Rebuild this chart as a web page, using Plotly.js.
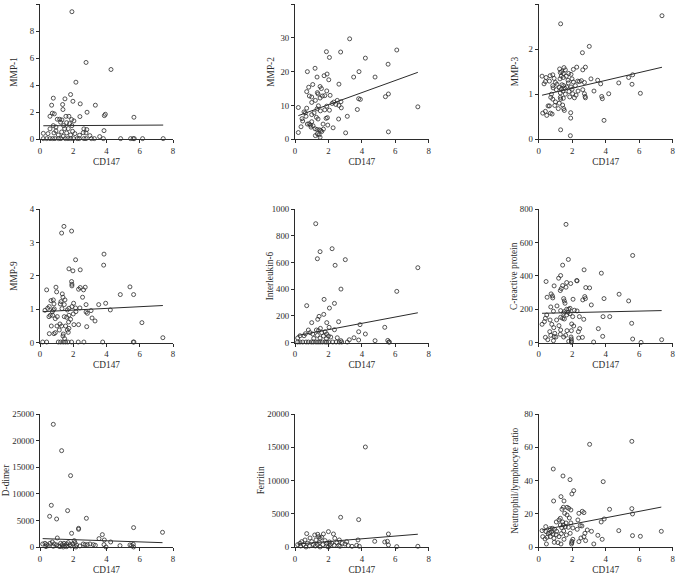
<!DOCTYPE html>
<html><head><meta charset="utf-8">
<script src="https://cdn.plot.ly/plotly-3.0.1.min.js"></script>
<style>html,body{margin:0;padding:0;background:#fff}</style>
</head><body><div id="chart" style="width:676px;height:576px"></div>
<script>
// ---------- DATA ----------
const panelTitles = ["MMP-1","MMP-2","MMP-3","MMP-9","Interleukin-6","C-reactive protein","D-dimer","Ferritin","Neutrophil/lymphocyte ratio"];
const xTitle = "CD147";
const xTicks = [0,2,4,6,8];
const yTicks1 = [0,2,4,6,8,10];
const yTicks2 = [0,10,20,30,40];
const yTicks3 = [0,1,2,3];
const yTicks4 = [0,1,2,3,4];
const yTicks5 = [0,200,400,600,800,1000];
const yTicks6 = [0,200,400,600,800];
const yTicks7 = [0,5000,10000,15000,20000,25000];
const yTicks8 = [0,5000,10000,15000,20000];
const yTicks9 = [0,20,40,60,80];

// fitted regression lines: intercept, slope
const fitIntercept = [1.0, 6.64, 0.96, 0.925, 50.3, 175.5, 1646, 459, 10.0];
const fitSlope     = [0.007, 1.79, 0.0866, 0.0253, 23.6, 2.27, -105.5, 204.5, 1.93];

const mmp1X = [1.92,2.77,4.27,2.16,1.84,0.80,1.50,1.98,1.36,0.70,2.42,3.33,1.38,2.83,0.74,0.86,3.93,3.87,0.60,1.56,1.74,2.40,5.65,1.04,1.18,1.32,1.90,2.04,1.24,1.60,1.78,0.80,1.42,1.92,0.96,1.48,1.70,0.60,2.64,2.81,3.85,0.96,1.30,1.96,0.20,0.48,0.84,1.60,2.60,2.77,2.10,1.10,1.84,2.38,3.00,3.59,1.40,
 0.20,0.40,0.60,0.76,0.90,1.12,1.26,1.52,1.68,1.84,2.02,2.24,2.36,2.64,2.77,3.09,3.27,3.81,4.85,5.45,5.61,5.67,6.17,7.41];
const mmp1Y = [9.43,5.68,5.16,4.22,3.31,3.04,2.99,2.81,2.57,2.52,2.62,2.52,2.20,2.00,1.93,1.88,1.85,1.75,1.70,1.70,1.70,1.68,1.63,1.48,1.48,1.43,1.46,1.36,1.26,1.23,1.16,1.01,1.01,1.01,0.91,0.79,0.79,0.77,0.77,0.72,0.64,0.62,0.54,0.59,0.44,0.42,0.47,0.47,0.49,0.47,0.42,0.32,0.32,0.30,0.27,0.20,0.22,
 0.05,0.05,0.05,0.05,0.05,0.05,0.05,0.05,0.05,0.05,0.05,0.05,0.05,0.05,0.05,0.05,0.05,0.05,0.05,0.05,0.05,0.05,0.05,0.05];

const mmp2X = [3.27,1.88,2.73,6.09,2.06,4.21,5.57,0.74,1.20,3.83,1.92,1.74,1.32,3.51,4.79,2.02,0.82,1.50,1.58,2.63,1.06,0.70,1.90,1.34,1.38,5.59,0.86,1.00,1.64,1.78,2.10,5.41,1.50,3.81,3.91,1.22,2.53,1.00,2.32,2.75,2.22,2.44,2.63,1.90,7.35,1.40,2.77,0.20,0.70,1.32,1.78,2.06,3.73,1.52,0.54,0.62,1.14,1.00,0.66,3.13,1.28,1.86,1.94,2.61,0.42,1.38,0.46,1.00,0.84,0.92,1.96,0.74,1.68,0.36,0.96,2.28,1.20,1.32,1.46,1.54,1.70,0.20,3.03,5.59,1.34,1.44,1.22,1.50,1.60,1.08];
const mmp2Y = [29.7,25.9,25.8,26.4,24.2,24.0,22.2,20.0,21.0,20.0,19.3,18.8,18.4,18.4,18.4,17.6,15.4,15.6,15.0,16.3,16.2,14.1,14.3,13.8,13.4,13.4,12.8,12.5,12.8,12.9,13.0,12.6,12.2,12.0,11.8,11.5,11.5,10.9,11.0,11.1,10.6,10.3,10.0,9.8,9.6,9.9,9.3,9.4,9.2,9.0,8.7,8.6,8.8,8.4,8.1,7.8,7.8,7.3,6.8,6.8,6.5,6.2,6.4,6.0,6.1,6.0,5.4,5.2,4.6,4.2,4.2,4.5,4.5,3.7,3.6,3.4,3.1,2.9,2.8,2.6,3.0,2.0,1.9,2.2,1.6,1.3,1.1,0.6,2.3,4.0];

const mmp3X = [7.36,1.31,3.02,2.61,2.79,2.27,1.25,1.51,1.59,1.37,2.07,2.63,1.29,1.47,1.79,0.20,0.68,0.84,1.35,1.65,1.93,1.47,0.44,0.92,1.27,1.99,3.12,5.37,5.61,3.52,1.75,0.40,0.64,2.33,2.43,2.55,1.00,1.77,2.07,2.73,0.32,1.09,1.39,3.70,4.78,5.57,0.84,1.49,1.67,1.93,2.19,1.23,1.35,1.57,1.99,2.63,0.86,1.05,1.81,1.45,3.30,2.35,1.29,2.73,4.18,6.07,1.59,2.03,0.76,2.23,2.77,3.76,1.85,2.13,0.72,1.29,3.80,1.31,1.47,0.84,1.00,2.79,1.23,0.96,1.43,0.56,0.64,1.17,1.49,1.53,0.40,0.24,0.48,0.70,0.80,1.91,1.91,3.90,1.31,1.89];
const mmp3Y = [2.74,2.56,2.06,1.92,1.60,1.60,1.56,1.59,1.54,1.50,1.55,1.54,1.48,1.46,1.46,1.40,1.41,1.43,1.40,1.40,1.44,1.37,1.37,1.35,1.34,1.34,1.34,1.37,1.43,1.31,1.31,1.28,1.29,1.29,1.28,1.30,1.26,1.25,1.27,1.26,1.23,1.22,1.21,1.23,1.25,1.22,1.19,1.19,1.16,1.16,1.19,1.15,1.11,1.13,1.11,1.10,1.14,1.10,1.06,1.07,1.07,1.07,1.03,1.01,1.01,1.02,1.00,1.01,1.00,0.98,0.95,0.95,0.94,0.92,0.93,0.93,0.90,0.89,0.91,0.89,0.83,0.92,0.80,0.75,0.76,0.74,0.74,0.68,0.68,0.64,0.62,0.58,0.53,0.58,0.56,0.59,0.47,0.42,0.21,0.08];

const mmp9X = [1.44,1.90,1.30,3.85,3.83,2.14,1.74,2.42,1.98,1.90,1.92,1.92,5.41,2.72,0.96,0.40,2.32,2.62,2.42,4.83,5.63,1.34,1.00,1.38,2.56,0.66,0.80,1.50,1.26,1.22,1.46,2.02,2.77,3.53,3.95,0.84,0.56,0.46,1.92,2.14,2.40,0.86,1.32,1.74,1.64,4.23,3.07,2.77,0.30,0.80,0.74,2.16,2.85,2.00,1.74,0.62,0.76,1.04,1.60,0.54,0.92,1.46,3.13,1.84,3.31,1.72,1.20,2.04,2.32,1.30,0.68,1.02,1.54,6.13,1.74,2.81,1.16,1.64,1.70,0.56,0.84,0.92,1.40,1.38,1.48,7.39,
 0.16,0.40,1.10,1.24,1.40,1.54,1.68,1.90,2.30,2.64,3.77,5.61,5.65];
const mmp9Y = [3.48,3.34,3.28,2.65,2.32,2.48,2.21,2.18,2.15,1.83,1.75,1.70,1.67,1.66,1.66,1.58,1.60,1.58,1.65,1.44,1.44,1.46,1.52,1.36,1.36,1.26,1.28,1.28,1.23,1.16,1.14,1.18,1.14,1.14,1.18,1.16,1.08,1.03,1.08,1.04,1.04,1.01,1.02,1.03,0.98,0.98,0.96,0.92,0.97,0.98,0.93,0.93,0.88,0.86,0.82,0.82,0.82,0.78,0.76,0.78,0.72,0.78,0.74,0.70,0.65,0.62,0.56,0.54,0.54,0.50,0.50,0.50,0.50,0.60,0.43,0.48,0.38,0.38,0.31,0.27,0.27,0.30,0.26,0.20,0.12,0.15,
 0.02,0.02,0.02,0.02,0.02,0.02,0.02,0.02,0.02,0.02,0.02,0.02,0.02];

const il6X = [1.24,2.22,1.50,1.34,3.01,2.40,7.35,2.75,6.09,1.74,0.70,2.36,2.06,1.72,1.44,1.36,2.61,1.00,1.90,3.89,1.52,2.04,5.37,2.36,1.28,0.80,1.40,1.80,3.81,1.60,0.90,0.62,1.06,4.21,1.90,0.30,0.54,1.34,1.70,2.00,2.14,3.53,2.53,0.16,1.50,1.12,1.88,3.25,3.81,2.75,4.79,5.55,
 0.16,0.30,0.46,0.66,0.80,0.98,1.10,1.26,1.38,1.50,1.64,1.80,1.90,2.02,2.26,2.46,2.65,2.79,3.13,5.61,5.65];
const il6Y = [890,703,681,628,621,579,561,401,384,324,277,294,259,212,197,175,157,150,150,135,107,115,115,97,95,95,90,82,82,75,75,67,65,65,65,52,52,55,50,50,42,37,37,35,35,32,30,22,20,15,15,17,
 5,5,5,5,5,5,5,5,5,5,5,5,5,5,5,5,5,5,5,5,5];

const crpX = [1.63,1.77,5.61,1.43,2.71,3.74,1.31,1.19,2.27,2.29,0.44,1.67,1.91,1.43,0.92,1.63,1.35,2.81,3.04,1.29,4.80,0.74,0.82,0.50,0.84,1.49,2.75,2.79,2.63,2.05,3.90,5.37,1.53,1.57,3.14,0.72,1.09,1.87,1.67,1.79,2.13,1.31,2.29,0.88,1.53,1.75,1.87,1.49,0.48,1.67,2.03,2.43,3.84,4.24,1.31,1.43,1.53,0.40,2.69,1.07,0.68,0.34,5.55,0.20,0.78,1.97,1.21,2.09,0.90,2.45,3.56,1.31,1.69,0.66,2.37,1.95,0.96,1.29,0.72,1.61,3.82,0.92,1.03,1.49,0.40,1.93,2.61,2.39,5.61,7.34,1.95,0.54,0.88,1.95,3.28,1.95,6.11,1.79];
const crpY = [708,498,522,464,436,416,402,386,372,370,366,360,354,342,340,332,324,330,328,312,290,292,280,272,268,264,276,264,256,260,264,250,250,236,226,214,220,206,200,200,194,192,190,188,186,182,174,176,166,166,156,156,156,156,152,146,142,146,140,136,136,126,116,110,110,112,102,100,90,84,84,76,72,66,66,72,56,50,44,44,38,36,34,34,32,34,32,28,22,18,22,18,12,10,4,2,2,8];

const ddX = [0.80,1.30,1.84,0.68,1.66,0.58,1.00,2.79,2.32,2.32,5.63,7.37,1.90,3.75,3.55,3.87,1.04,2.06,4.25,0.16,0.30,0.40,0.50,0.60,0.74,0.86,1.00,1.12,1.24,1.34,1.44,1.50,1.60,1.70,1.80,1.86,1.96,2.10,2.20,2.40,2.60,2.71,2.85,3.01,3.21,3.33,3.85,3.97,4.81,5.41,5.51,5.61,5.63,1.20,1.60,0.36,2.16,0.80,1.40];
const ddY = [23060,18125,13440,7875,6875,5810,5310,5440,3560,3375,3690,2810,2625,2375,1625,1375,1750,1250,1000,625,750,500,310,750,1000,625,440,250,750,500,750,310,625,875,500,250,625,875,440,250,625,500,500,625,500,375,500,60,310,440,310,560,60,125,125,125,60,190,60];

const ferX = [4.21,2.73,3.81,2.00,0.70,2.30,5.59,1.18,1.36,1.70,1.42,1.60,0.90,1.50,2.38,3.77,0.60,1.26,2.65,1.80,4.77,3.09,5.37,5.53,0.40,1.00,2.06,0.30,0.74,1.46,1.90,2.20,2.50,2.83,2.99,0.16,0.50,1.10,1.34,1.66,2.10,2.34,2.61,3.19,3.69,5.59,0.34,0.86,1.22,1.90,2.69,3.41,3.85,6.09,7.35,0.66,1.50,2.00];
const ferY = [15050,4500,4150,2350,2050,2000,2000,1850,1950,2000,1600,1500,1400,1350,1350,1100,1100,1100,1100,1000,900,850,800,900,850,850,800,600,600,700,600,600,700,600,500,400,400,400,400,400,400,300,300,250,300,350,200,200,200,200,150,150,150,100,150,50,50,50];

const nlrX = [5.56,3.04,0.87,1.45,1.87,3.85,2.09,1.98,1.33,1.51,0.89,4.23,5.56,1.47,1.69,1.79,1.92,1.39,2.60,2.70,2.40,5.60,1.55,1.69,1.29,1.83,3.91,1.21,2.34,1.43,3.73,1.05,1.63,1.92,0.42,0.81,1.47,1.29,2.48,2.58,1.59,1.77,1.37,2.04,0.69,0.95,2.30,0.20,2.90,1.49,1.07,4.78,7.32,3.15,0.44,0.77,0.56,0.67,0.85,1.35,1.88,2.76,1.05,1.65,3.53,5.60,6.07,0.24,0.50,0.69,1.21,2.70,2.52,0.91,0.38,1.51,2.04,3.79,2.80,2.40,1.98,0.93,1.15,1.98,1.96,0.46,3.29,1.33];
const nlrY = [63.6,61.8,47.0,42.8,40.6,39.4,34.0,32.0,30.4,27.8,27.8,22.8,23.2,24.0,24.0,23.4,22.4,22.8,21.6,20.8,20.4,20.0,20.4,19.4,17.4,17.6,17.0,16.4,16.4,15.2,15.2,15.2,14.6,14.6,12.4,11.4,13.4,13.4,13.0,12.8,12.4,12.0,11.8,11.6,11.2,10.8,10.8,10.0,10.4,9.8,9.6,10.0,9.6,9.6,9.4,9.2,8.4,8.6,8.0,8.2,8.4,8.4,7.6,7.4,7.2,7.0,6.6,6.4,6.0,6.4,6.4,6.4,5.6,5.4,5.0,4.8,4.8,4.8,4.0,3.4,3.6,3.0,2.8,2.8,2.0,2.0,2.0,2.0];

// ---------- BUILD ----------
const panelX = [mmp1X,mmp2X,mmp3X,mmp9X,il6X,crpX,ddX,ferX,nlrX];
const panelY = [mmp1Y,mmp2Y,mmp3Y,mmp9Y,il6Y,crpY,ddY,ferY,nlrY];
const panelTicks = [yTicks1,yTicks2,yTicks3,yTicks4,yTicks5,yTicks6,yTicks7,yTicks8,yTicks9];

const W = 676, H = 576;
const colPx = [[40,173],[295,428.7],[538.7,672.7]];
const rowPx = [[4,139.3],[209,342.7],[414,547.3]];
const yTitleOffset = [26,24,24,26,25.5,24.5,34.5,34.3,24.5]; // px left of y axis (title centre)
const ink = '#2b2b2b';
const fontFam = '"Liberation Serif", "Times New Roman", serif';
const fs = 8.8;

const traces = [];
const annotations = [];
const layout = {
  width: W, height: H, margin:{l:0,r:0,t:0,b:0},
  paper_bgcolor:'#fff', plot_bgcolor:'#fff', showlegend:false,
  font:{family:fontFam, color:ink, size:fs}
};

for (let i=0;i<9;i++){
  const r = Math.floor(i/3), c = i%3;
  const n = i+1;
  const xa = n===1?'x':'x'+n, ya = n===1?'y':'y'+n;
  const xs = panelX[i], ys = panelY[i];
  traces.push({type:'scatter', mode:'markers', x:xs, y:ys, xaxis:xa, yaxis:ya,
    marker:{symbol:'circle-open', size:4, color:ink, line:{width:0.8, color:ink}}, cliponaxis:false});
  const x0 = Math.min(...xs), x1 = Math.max(...xs);
  traces.push({type:'scatter', mode:'lines', x:[x0,x1],
    y:[fitIntercept[i]+fitSlope[i]*x0, fitIntercept[i]+fitSlope[i]*x1],
    xaxis:xa, yaxis:ya, line:{color:ink, width:1}});
  const yt = panelTicks[i];
  const axCommon = {showgrid:false, zeroline:false, showline:true, linecolor:ink, linewidth:1,
    ticks:'outside', ticklen:3, tickwidth:1, tickcolor:ink, fixedrange:true, tickformat:'d',
    tickfont:{family:fontFam, size:fs, color:ink}};
  layout['xaxis'+(n===1?'':n)] = Object.assign({}, axCommon, {
    domain:[colPx[c][0]/W, colPx[c][1]/W], anchor:ya, range:[0,8], tickvals:xTicks,
    title:{text:xTitle, font:{family:fontFam,size:fs+0.5,color:ink}, standoff:3}
  });
  layout['yaxis'+(n===1?'':n)] = Object.assign({}, axCommon, {
    domain:[1-rowPx[r][1]/H, 1-rowPx[r][0]/H], anchor:xa, range:[0, yt[yt.length-1]], tickvals:yt
  });
  annotations.push({text:panelTitles[i], textangle:-90, showarrow:false,
    xref:'paper', yref:'paper', xanchor:'center', yanchor:'middle',
    x:(colPx[c][0]-yTitleOffset[i])/W, y:1-((rowPx[r][0]+rowPx[r][1])/2)/H,
    font:{family:fontFam, size:fs+0.5, color:ink}});
}
layout.annotations = annotations;

Plotly.newPlot('chart', traces, layout, {staticPlot:true, displayModeBar:false});
</script></body></html>
